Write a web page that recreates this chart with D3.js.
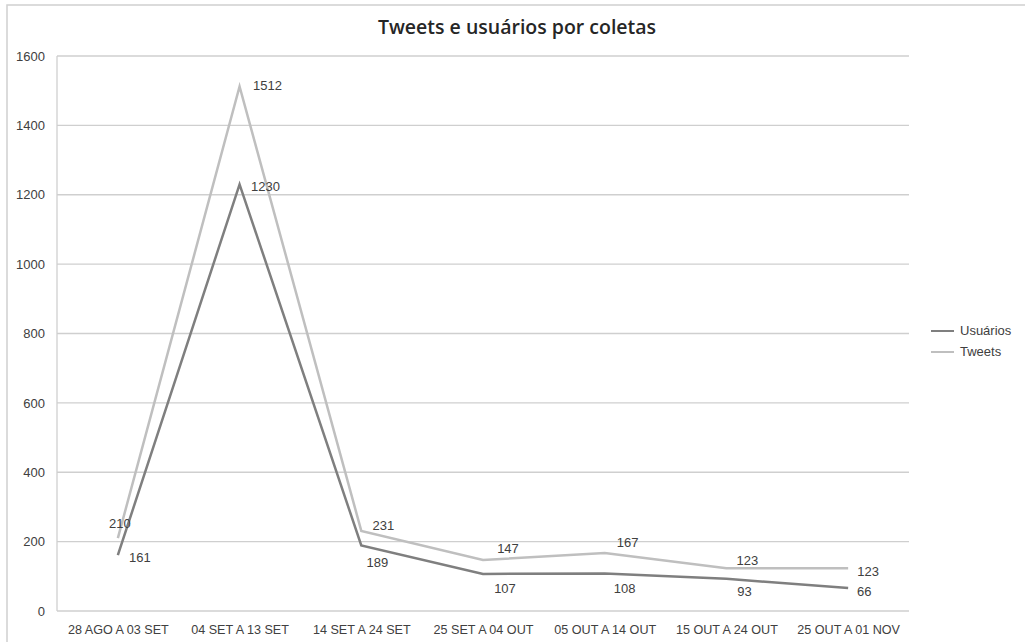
<!DOCTYPE html>
<html><head><meta charset="utf-8">
<script src="https://cdn.jsdelivr.net/npm/d3@7"></script>
<style>
body{margin:0;background:#fff;}
text{font-family:"Liberation Sans",Arial,sans-serif;fill:#404040;}
</style></head>
<body><svg id="c" width="1025" height="642"></svg>
<script>
const title = "Tweets e usuários por coletas";
const categories = ["28 AGO A 03 SET","04 SET A 13 SET","14 SET A 24 SET","25 SET A 04 OUT","05 OUT A 14 OUT","15 OUT A 24 OUT","25 OUT A 01 NOV"];
const usuarios = [161,1230,189,107,108,93,66];
const tweets = [210,1512,231,147,167,123,123];
const yTicks = [0,200,400,600,800,1000,1200,1400,1600];
const seriesNames = ["Usuários","Tweets"];
// label placement offsets (dx, dy) in px, per point
const tweetLabelOffsets = [[2,-14],[28,0],[22,-4],[25,-10],[23,-10],[21,-7],[20,4]];
const userLabelOffsets = [[22,3],[26,3],[16,18],[22,16],[20,16],[18,14],[16,4]];

const svg = d3.select("#c");
const m = {l:57, r:909, t:56, b:611};
const x = d3.scalePoint().domain(categories).range([m.l, m.r]).padding(0.5);
const y = d3.scaleLinear().domain([0,1600]).range([m.b, m.t]);

// outer border
svg.append("rect").attr("x",7).attr("y",5).attr("width",1040).attr("height",660)
  .attr("fill","none").attr("stroke","#d0d0d0").attr("stroke-width",1.5);

// title
svg.append("text").attr("x",517).attr("y",34).attr("text-anchor","middle")
  .style("font-family","'Open Sans',sans-serif").style("font-weight","600").style("font-size","19.5px")
  .style("fill","#262626").text(title);

// gridlines
svg.append("g").selectAll("line").data(yTicks).join("line")
  .attr("x1",m.l).attr("x2",m.r).attr("y1",d=>y(d)).attr("y2",d=>y(d))
  .attr("stroke","#cfcfcf").attr("stroke-width",1.3);
svg.append("line").attr("x1",m.l).attr("x2",m.l).attr("y1",m.t).attr("y2",m.b)
  .attr("stroke","#cfcfcf").attr("stroke-width",1.3);

// y axis
const yAxis = svg.append("g").attr("transform",`translate(${m.l},0)`)
  .call(d3.axisLeft(y).tickValues(yTicks).tickSize(0).tickPadding(12).tickFormat(d3.format("d")));
yAxis.select(".domain").remove();
yAxis.selectAll("text").style("font-size","13px").style("fill","#404040");

// x axis
const xAxis = svg.append("g").attr("transform",`translate(0,${m.b})`)
  .call(d3.axisBottom(x).tickSize(0).tickPadding(14));
xAxis.select(".domain").remove();
xAxis.selectAll("text").style("font-size","12.6px").style("fill","#404040");

const line = d3.line().x((d,i)=>x(categories[i])).y(d=>y(d));
const colors = {"Usuários":"#7f7f7f","Tweets":"#bfbfbf"};

svg.append("path").datum(tweets).attr("d",line).attr("fill","none")
  .attr("stroke",colors["Tweets"]).attr("stroke-width",2.5).attr("stroke-linejoin","miter");
svg.append("path").datum(usuarios).attr("d",line).attr("fill","none")
  .attr("stroke",colors["Usuários"]).attr("stroke-width",2.5).attr("stroke-linejoin","miter");

function labels(vals, offs){
  svg.append("g").selectAll("text").data(vals).join("text")
    .attr("x",(d,i)=>x(categories[i])+offs[i][0])
    .attr("y",(d,i)=>y(d)+offs[i][1])
    .attr("text-anchor","middle").attr("dominant-baseline","middle")
    .style("font-size","13px").text(d=>d);
}
labels(tweets, tweetLabelOffsets);
labels(usuarios, userLabelOffsets);

// legend
const lg = svg.append("g");
seriesNames.forEach((s,i)=>{
  const ly = 331 + i*21;
  lg.append("line").attr("x1",931).attr("x2",954).attr("y1",ly).attr("y2",ly)
    .attr("stroke",colors[s]).attr("stroke-width",2);
  lg.append("text").attr("x",960).attr("y",ly+1).attr("dominant-baseline","middle")
    .style("font-size","13px").text(s);
});
</script></body></html>
